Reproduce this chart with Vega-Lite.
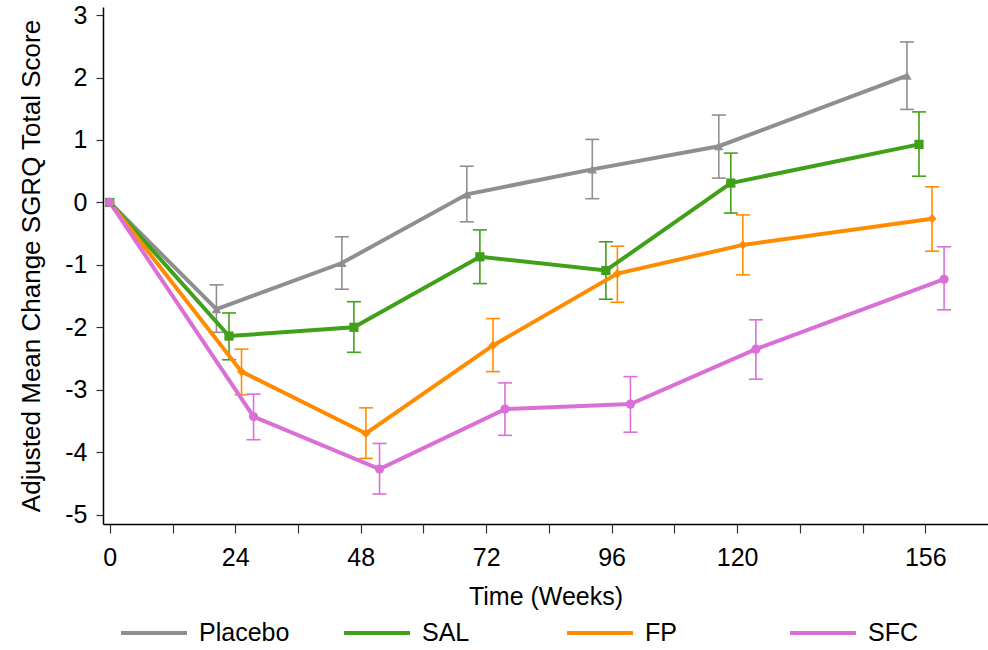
{
  "$schema": "https://vega.github.io/schema/vega-lite/v6.json",
  "autosize": {"type": "none"},
  "padding": {"left": 103, "top": 7, "right": 0, "bottom": 126},
  "width": 885,
  "height": 517,
  "background": "white",
  "data": {
    "values": [
      {"series": "Placebo", "week": 0, "mean": 0, "lo": null, "hi": null},
      {"series": "Placebo", "week": 20.4, "mean": -1.71, "lo": -2.08, "hi": -1.32},
      {"series": "Placebo", "week": 44.4, "mean": -0.97, "lo": -1.39, "hi": -0.55},
      {"series": "Placebo", "week": 68.3, "mean": 0.13, "lo": -0.31, "hi": 0.58},
      {"series": "Placebo", "week": 92.3, "mean": 0.53, "lo": 0.06, "hi": 1.01},
      {"series": "Placebo", "week": 116.5, "mean": 0.9, "lo": 0.39, "hi": 1.4},
      {"series": "Placebo", "week": 152.5, "mean": 2.03, "lo": 1.49, "hi": 2.57},
      {"series": "SAL", "week": 0, "mean": 0, "lo": null, "hi": null},
      {"series": "SAL", "week": 22.8, "mean": -2.14, "lo": -2.52, "hi": -1.77},
      {"series": "SAL", "week": 46.7, "mean": -2.0, "lo": -2.4, "hi": -1.59},
      {"series": "SAL", "week": 70.8, "mean": -0.87, "lo": -1.3, "hi": -0.44},
      {"series": "SAL", "week": 94.9, "mean": -1.09, "lo": -1.55, "hi": -0.63},
      {"series": "SAL", "week": 118.8, "mean": 0.31, "lo": -0.17, "hi": 0.79},
      {"series": "SAL", "week": 154.8, "mean": 0.93, "lo": 0.42, "hi": 1.45},
      {"series": "FP", "week": 0, "mean": 0, "lo": null, "hi": null},
      {"series": "FP", "week": 25.2, "mean": -2.71, "lo": -3.08, "hi": -2.35},
      {"series": "FP", "week": 49.0, "mean": -3.7, "lo": -4.1, "hi": -3.29},
      {"series": "FP", "week": 73.3, "mean": -2.29, "lo": -2.71, "hi": -1.86},
      {"series": "FP", "week": 97.1, "mean": -1.14, "lo": -1.6, "hi": -0.7},
      {"series": "FP", "week": 121.1, "mean": -0.68, "lo": -1.16, "hi": -0.2},
      {"series": "FP", "week": 157.3, "mean": -0.26, "lo": -0.78, "hi": 0.25},
      {"series": "SFC", "week": 0, "mean": 0, "lo": null, "hi": null},
      {"series": "SFC", "week": 27.5, "mean": -3.43, "lo": -3.8, "hi": -3.07},
      {"series": "SFC", "week": 51.6, "mean": -4.27, "lo": -4.67, "hi": -3.86},
      {"series": "SFC", "week": 75.6, "mean": -3.31, "lo": -3.73, "hi": -2.89},
      {"series": "SFC", "week": 99.6, "mean": -3.23, "lo": -3.68, "hi": -2.79},
      {"series": "SFC", "week": 123.6, "mean": -2.35, "lo": -2.83, "hi": -1.88},
      {"series": "SFC", "week": 159.6, "mean": -1.23, "lo": -1.72, "hi": -0.71}
    ]
  },
  "encoding": {
    "x": {
      "field": "week", "type": "quantitative",
      "scale": {"domain": [-1.3, 168], "nice": false, "zero": false},
      "axis": {
        "title": "Time (Weeks)",
        "values": [0, 12, 24, 36, 48, 60, 72, 84, 96, 108, 120, 132, 144, 156],
        "format": "d",
        "labelExpr": "indexof([0,24,48,72,96,120,156], datum.value) >= 0 ? datum.label : ''",
        "grid": false,
        "tickSize": 9,
        "labelPadding": 12,
        "titlePadding": 14
      }
    },
    "y": {
      "field": "mean", "type": "quantitative",
      "scale": {"domain": [-5.15, 3.13], "nice": false, "zero": false},
      "axis": {
        "title": "Adjusted Mean Change SGRQ Total Score",
        "values": [-5, -4, -3, -2, -1, 0, 1, 2, 3],
        "format": "d",
        "labelExpr": "replace(datum.label, '\u2212', '-')",
        "grid": false,
        "tickSize": 7,
        "labelPadding": 9,
        "titlePadding": 20,
        "titleFontSize": 26
      }
    },
    "color": {
      "field": "series", "type": "nominal",
      "scale": {"domain": ["Placebo", "SAL", "FP", "SFC"], "range": ["#8f8f8f", "#41a01a", "#ff8c00", "#da70d6"]},
      "legend": {
        "title": null,
        "orient": "none",
        "direction": "horizontal",
        "columns": 4,
        "legendX": 16,
        "legendY": 591,
        "symbolType": "stroke",
        "symbolSize": 4356,
        "symbolStrokeWidth": 4,
        "labelOffset": 10,
        "gridAlign": "all",
        "columnPadding": 46,
        "padding": 0,
        "labelFontSize": 25,
        "labelFont": "Liberation Sans",
        "labelColor": "#000"
      }
    }
  },
  "layer": [
    {
      "mark": {"type": "rule", "stroke": "#999999", "strokeDash": [5, 4], "strokeWidth": 1},
      "encoding": {"y": {"datum": 0, "type": "quantitative"}, "color": {"value": "#999999"}}
    },
    {
      "transform": [{"filter": "datum.lo != null"}],
      "mark": {"type": "rule", "strokeWidth": 1.6},
      "encoding": {
        "y": {"field": "lo", "type": "quantitative"},
        "y2": {"field": "hi"}
      }
    },
    {
      "transform": [{"filter": "datum.lo != null"}],
      "mark": {"type": "tick", "orient": "horizontal", "size": 14, "thickness": 1.6, "opacity": 1},
      "encoding": {"y": {"field": "lo", "type": "quantitative"}}
    },
    {
      "transform": [{"filter": "datum.lo != null"}],
      "mark": {"type": "tick", "orient": "horizontal", "size": 14, "thickness": 1.6, "opacity": 1},
      "encoding": {"y": {"field": "hi", "type": "quantitative"}}
    },
    {
      "mark": {"type": "line", "strokeWidth": 4}
    },
    {
      "transform": [{"filter": "datum.series == 'Placebo'"}],
      "mark": {"type": "point", "filled": true, "opacity": 1, "size": 90, "shape": "triangle-up"}
    },
    {
      "transform": [{"filter": "datum.series == 'SAL'"}],
      "mark": {"type": "point", "filled": true, "opacity": 1, "size": 85, "shape": "square"}
    },
    {
      "transform": [{"filter": "datum.series == 'FP'"}],
      "mark": {"type": "point", "filled": true, "opacity": 1, "size": 85, "shape": "diamond"}
    },
    {
      "transform": [{"filter": "datum.series == 'SFC'"}],
      "mark": {"type": "point", "filled": true, "opacity": 1, "size": 85, "shape": "circle"}
    }
  ],
  "config": {
    "view": {"stroke": null},
    "font": "Liberation Sans",
    "axis": {
      "domainColor": "#000000",
      "domainWidth": 1.5,
      "domainOpacity": 1,
      "tickColor": "#333333",
      "tickWidth": 1.2,
      "labelFont": "Liberation Sans",
      "labelFontSize": 25,
      "labelColor": "#000000",
      "titleFont": "Liberation Sans",
      "titleFontSize": 25,
      "titleFontWeight": "normal",
      "titleColor": "#000000"
    }
  }
}
